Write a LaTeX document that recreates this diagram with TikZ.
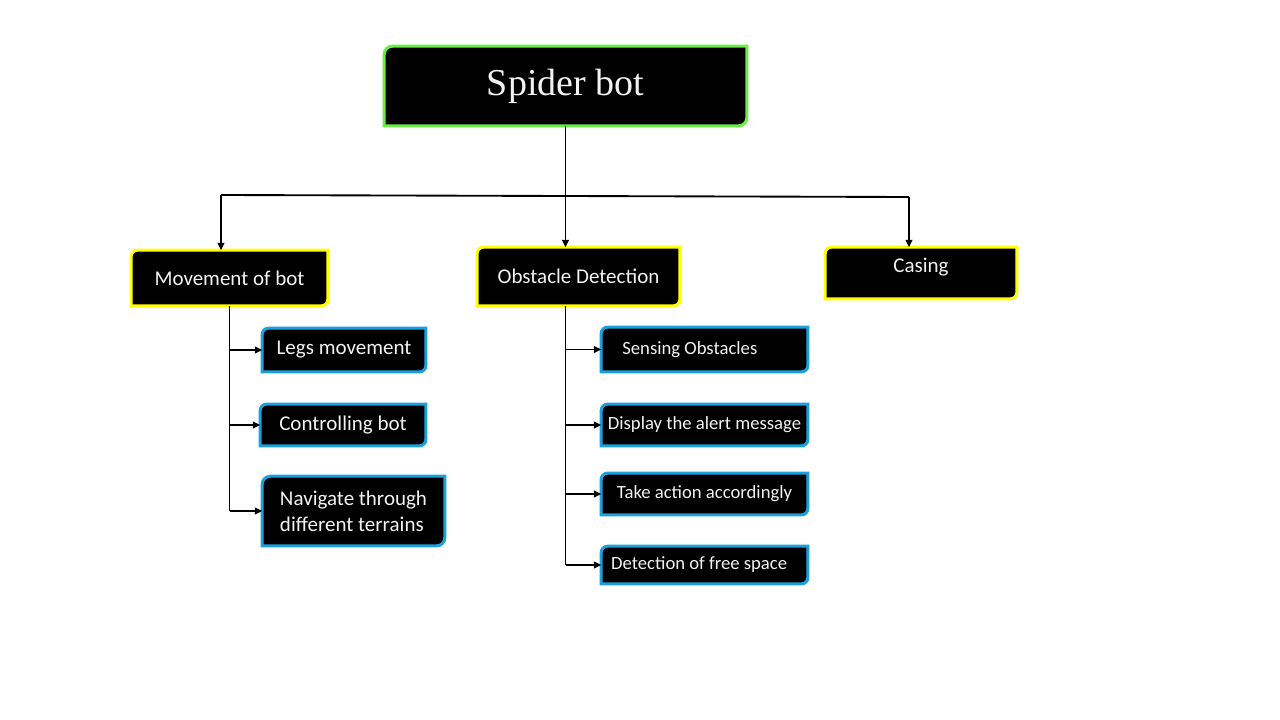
\documentclass[tikz,border=0pt]{standalone}
\usepackage{fontspec}
\setmainfont{Carlito}
\newfontfamily\rootfont{Liberation Serif}
\usetikzlibrary{arrows.meta,backgrounds}
\definecolor{rootgreen}{RGB}{102,238,68}
\definecolor{headyellow}{RGB}{255,255,0}
\definecolor{leafblue}{RGB}{28,160,220}

\begin{document}
\begin{tikzpicture}[x=0.75pt,y=-0.75pt,
  boxstyle/.style={inner sep=0pt,text=white!95!black,font=\fontsize{15.75}{19.5}\selectfont},
  smallstyle/.style={boxstyle,font=\fontsize{14}{17}\selectfont},
  arr/.style={line width=1.4pt,-{Triangle[length=5.5pt,width=5pt]}},
  conn/.style={line width=1.4pt}]
 \useasboundingbox (0,0) rectangle (1280,720);

 % top and second row
 \node [boxstyle,minimum width=271.5pt,minimum height=59.25pt,font=\rootfont\fontsize{28.5}{30}\selectfont] (root) at (565.5,86) {Spider bot};
 \node [boxstyle,minimum width=147pt,minimum height=41.25pt] (mov) at (229.5,278) {Movement of bot};
 \node [boxstyle,minimum width=151.5pt,minimum height=43.5pt] (obs) at (578.5,276.5) {Obstacle Detection};
 \node [boxstyle,minimum width=143.25pt,minimum height=38.25pt,text depth=12pt] (cas) at (921,273) {Casing};

 % left column
 \node [boxstyle,minimum width=122.25pt,minimum height=32.25pt] (legs) at (344,350) {Legs movement};
 \node [boxstyle,minimum width=123.75pt,minimum height=30.75pt] (ctrl) at (343,425) {Controlling bot};
 \node [boxstyle,minimum width=136.5pt,minimum height=51.75pt,align=left] (nav) at (353.5,511) {Navigate through\\different terrains};

 % right column
 \node [smallstyle,minimum width=154.5pt,minimum height=33pt] (sens) at (704.5,349.5) {Sensing Obstacles\hspace*{22pt}};
 \node [smallstyle,minimum width=154.5pt,minimum height=30.75pt] (disp) at (704.5,425) {Display the alert message};
 \node [smallstyle,minimum width=154.5pt,minimum height=30.75pt] (take) at (704.5,494) {Take action accordingly};
 \node [smallstyle,minimum width=154.5pt,minimum height=27.75pt] (free) at (704.5,565) {Detection of free space\hspace*{8pt}};

 \begin{scope}[on background layer]
  \foreach \n/\c/\r in {root/rootgreen/6pt,mov/headyellow/4.5pt,obs/headyellow/4.5pt,cas/headyellow/4.5pt,
                        legs/leafblue/4.5pt,ctrl/leafblue/4.5pt,nav/leafblue/6pt,
                        sens/leafblue/4.5pt,disp/leafblue/4.5pt,take/leafblue/4.5pt,free/leafblue/4.5pt}
    \draw [line width=2.25pt,draw=\c,fill=black]
      (\n.west) [rounded corners=\r] -- (\n.north west) -- (\n.north) [sharp corners] -- (\n.north east) -- (\n.east)
      [rounded corners=\r] -- (\n.south east) -- (\n.south) [sharp corners] -- (\n.south west) -- cycle;
 \end{scope}

 % bus
 \coordinate (busL) at (221,195);
 \coordinate (busR) at (909,197);
 \draw [arr] (root.south) -- (root.south |- obs.north);
 \draw [conn] (busL) -- (busR);
 \draw [arr] (busL) -- (busL |- mov.north);
 \draw [arr] (busR) -- (busR |- cas.north);

 % branches
 \draw [conn] (mov.south) -- (mov.south |- nav.west);
 \foreach \n in {legs,ctrl,nav}
   \draw [arr] (mov.south |- \n.west) -- (\n.west);
 \draw [conn] (root.south |- obs.south) -- (root.south |- free.west);
 \foreach \n in {sens,disp,take,free}
   \draw [arr] (root.south |- \n.west) -- (\n.west);
\end{tikzpicture}
\end{document}
